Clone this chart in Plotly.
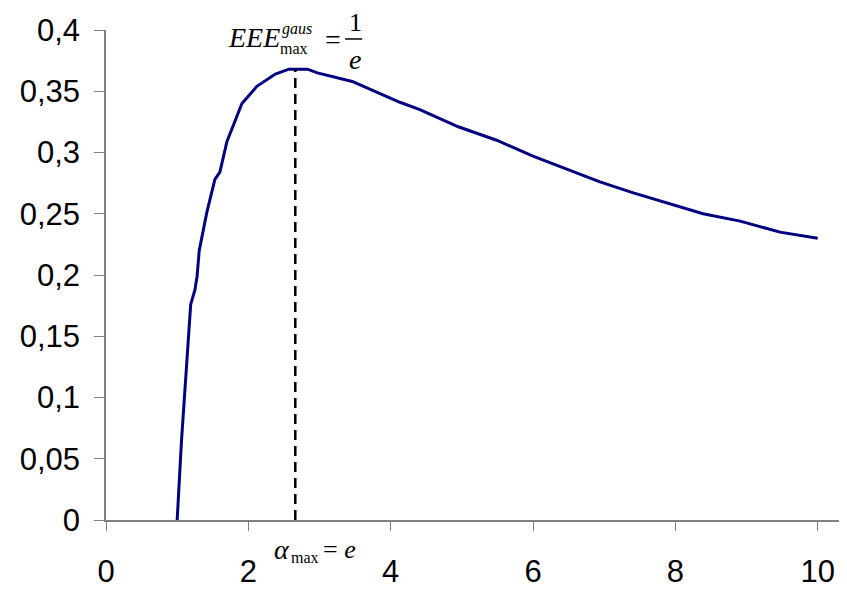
import plotly.graph_objects as go

# curve values
alpha = [1.0, 1.04, 1.06, 1.19, 1.25, 1.28, 1.31, 1.42, 1.53, 1.6, 1.7, 1.91,
         2.12, 2.38, 2.57, 2.83, 2.97, 3.46, 4.13, 4.41, 4.95, 5.49, 6.0,
         6.94, 7.41, 8.39, 8.91, 9.47, 10.0]
eee = [0.0, 0.041, 0.064, 0.176, 0.188, 0.199, 0.22, 0.252, 0.278, 0.284,
       0.309, 0.34, 0.354, 0.364, 0.368, 0.368, 0.365, 0.358, 0.341, 0.335,
       0.321, 0.31, 0.297, 0.276, 0.267, 0.25, 0.244, 0.235, 0.23]

alpha_max = 2.66
eee_max = 0.368

x_ticks = [0, 2, 4, 6, 8, 10]
y_ticks = [0, 0.05, 0.1, 0.15, 0.2, 0.25, 0.3, 0.35, 0.4]

fig = go.Figure()
fig.add_trace(go.Scatter(x=alpha, y=eee, mode='lines',
                         line=dict(color='#000080', width=3), showlegend=False))
fig.add_trace(go.Scatter(x=[alpha_max, alpha_max], y=[0, eee_max], mode='lines',
                         line=dict(color='black', width=2.5, dash='10px,6px'),
                         showlegend=False))

axis_font = dict(family='Liberation Sans, Arial', size=31, color='black')
serif = 'Liberation Serif, Times New Roman'

fig.update_xaxes(range=[0, 10.37], tickvals=x_ticks, showline=True, linecolor='#808080',
                 linewidth=1.5, ticks='outside', ticklen=9, tickcolor='#808080',
                 showgrid=False, zeroline=False, tickfont=axis_font,
                 ticklabelstandoff=14, automargin=False)
fig.update_yaxes(range=[0, 0.4], tickvals=y_ticks, showline=True, linecolor='#808080',
                 linewidth=1.5, ticks='outside', ticklen=10, tickcolor='#808080',
                 showgrid=False, zeroline=False, tickfont=axis_font,
                 ticklabelstandoff=8, automargin=False)


def note(text, x, y, size):
    # x in data units, y as a fraction of the plot height
    fig.add_annotation(text=text, x=x, y=y, xref='x', yref='paper', showarrow=False,
                       xanchor='center', yanchor='middle', borderpad=0,
                       font=dict(family=serif, size=size, color='black'))


# EEE^gaus_max = 1/e
note('<i>EEE</i>', 2.08, 0.985, 28)
note('<i>gaus</i>', 2.68, 1.003, 16)
note('max', 2.64, 0.9625, 16)
note('=', 3.19, 0.98, 28)
note('1', 3.50, 1.0143, 26)
note('<i>e</i>', 3.50, 0.94, 28)
fig.add_shape(type='line', xref='x', yref='paper', x0=3.36, x1=3.6, y0=0.9817, y1=0.9817,
              line=dict(color='black', width=1.5))

# alpha_max = e
note('<i>α</i>', 2.47, -0.061, 28)
note('max', 2.79, -0.0775, 16)
note('= <i>e</i>', 3.28, -0.061, 26)

# page body has an 8px margin, so the figure is a bit smaller than the window
fig.update_layout(width=839, height=581, margin=dict(l=98, r=3, t=22, b=69),
                  plot_bgcolor='white', paper_bgcolor='white', separators=', ')

fig.write_html('out.html')
